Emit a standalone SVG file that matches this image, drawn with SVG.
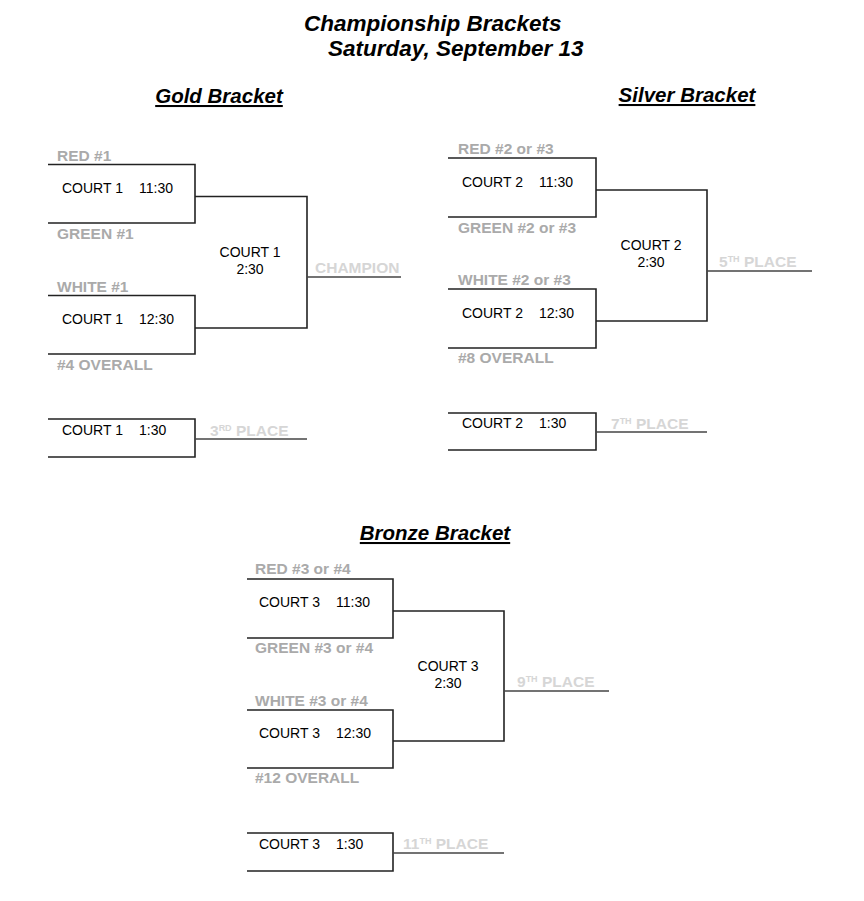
<svg xmlns="http://www.w3.org/2000/svg" width="864" height="901" viewBox="0 0 864 901">
<style>
text{font-family:"Liberation Sans",Arial,sans-serif}
.title{font-size:22.5px;font-weight:bold;font-style:italic;fill:#000}
.bt{font-size:20.5px;font-weight:bold;font-style:italic;fill:#000;text-decoration:underline;text-anchor:middle}
.ct{font-size:14px;fill:#000}
.mid{font-size:14px;fill:#000;text-anchor:middle}
.lbl{font-size:15.5px;font-weight:bold;fill:#aaaaaa}
.plc{font-size:15.5px;font-weight:bold;fill:#d6d6d6}
.sup{font-size:9px}
.ln{fill:none;stroke:#222;stroke-width:1.6}
.pl{fill:none;stroke:#444;stroke-width:1.6}
</style>
<rect width="864" height="901" fill="#fff"/>
<g id="title">
<text class="title" x="304" y="31">Championship Brackets</text>
<text class="title" x="328" y="56">Saturday, September 13</text>
</g>
<g id="connectors">
<path class="ln" d="M48,164.5H195V223H48"/>
<path class="ln" d="M48,295.5H195V354H48"/>
<path class="ln" d="M195,196.5H307V328H195"/>
<path class="pl" d="M307,277H401"/>
<path class="ln" d="M48,419H195V457H48"/>
<path class="pl" d="M195,439H307"/>
<path class="ln" d="M448,158H596V217H448"/>
<path class="ln" d="M448,289H596V348H448"/>
<path class="ln" d="M596,190H707V321H596"/>
<path class="pl" d="M707,271H812"/>
<path class="ln" d="M448,413H596V450H448"/>
<path class="pl" d="M596,432H707"/>
<path class="ln" d="M247,579H393V638H247"/>
<path class="ln" d="M247,710H393V768H247"/>
<path class="ln" d="M393,611H504V741H393"/>
<path class="pl" d="M504,691H609"/>
<path class="ln" d="M247,833H393V871H247"/>
<path class="pl" d="M393,853H504"/>
</g>
<g id="gold">
<text class="bt" x="219" y="103">Gold Bracket</text>
<g id="gold-m1"><text class="lbl" x="57" y="161">RED #1</text><text class="ct" x="62" y="193">COURT 1</text><text class="ct" x="139" y="193">11:30</text><text class="lbl" x="57" y="239">GREEN #1</text></g>
<g id="gold-m2"><text class="lbl" x="57" y="292">WHITE #1</text><text class="ct" x="62" y="324">COURT 1</text><text class="ct" x="139" y="324">12:30</text><text class="lbl" x="57" y="370">#4 OVERALL</text></g>
<g id="gold-final"><text class="mid" x="250" y="257">COURT 1</text><text class="mid" x="250" y="274">2:30</text><text class="plc" x="315" y="273">CHAMPION</text></g>
<g id="gold-3rd"><text class="ct" x="62" y="435">COURT 1</text><text class="ct" x="139" y="435">1:30</text><text class="plc" x="210" y="436">3<tspan class="sup" dy="-5">RD</tspan><tspan dy="5"> PLACE</tspan></text></g>
</g>
<g id="silver">
<text class="bt" x="687" y="102">Silver Bracket</text>
<g id="silver-m1"><text class="lbl" x="458" y="154">RED #2 or #3</text><text class="ct" x="462" y="187">COURT 2</text><text class="ct" x="539" y="187">11:30</text><text class="lbl" x="458" y="233">GREEN #2 or #3</text></g>
<g id="silver-m2"><text class="lbl" x="458" y="285">WHITE #2 or #3</text><text class="ct" x="462" y="318">COURT 2</text><text class="ct" x="539" y="318">12:30</text><text class="lbl" x="458" y="363">#8 OVERALL</text></g>
<g id="silver-final"><text class="mid" x="651" y="250">COURT 2</text><text class="mid" x="651" y="267">2:30</text><text class="plc" x="719" y="267">5<tspan class="sup" dy="-5">TH</tspan><tspan dy="5"> PLACE</tspan></text></g>
<g id="silver-7th"><text class="ct" x="462" y="428">COURT 2</text><text class="ct" x="539" y="428">1:30</text><text class="plc" x="611" y="429">7<tspan class="sup" dy="-5">TH</tspan><tspan dy="5"> PLACE</tspan></text></g>
</g>
<g id="bronze">
<text class="bt" x="435" y="540">Bronze Bracket</text>
<g id="bronze-m1"><text class="lbl" x="255" y="574">RED #3 or #4</text><text class="ct" x="259" y="607">COURT 3</text><text class="ct" x="336" y="607">11:30</text><text class="lbl" x="255" y="653">GREEN #3 or #4</text></g>
<g id="bronze-m2"><text class="lbl" x="255" y="706">WHITE #3 or #4</text><text class="ct" x="259" y="738">COURT 3</text><text class="ct" x="336" y="738">12:30</text><text class="lbl" x="255" y="783">#12 OVERALL</text></g>
<g id="bronze-final"><text class="mid" x="448" y="671">COURT 3</text><text class="mid" x="448" y="688">2:30</text><text class="plc" x="517" y="687">9<tspan class="sup" dy="-5">TH</tspan><tspan dy="5"> PLACE</tspan></text></g>
<g id="bronze-11th"><text class="ct" x="259" y="849">COURT 3</text><text class="ct" x="336" y="849">1:30</text><text class="plc" x="403" y="849">11<tspan class="sup" dy="-5">TH</tspan><tspan dy="5"> PLACE</tspan></text></g>
</g>
</svg>
